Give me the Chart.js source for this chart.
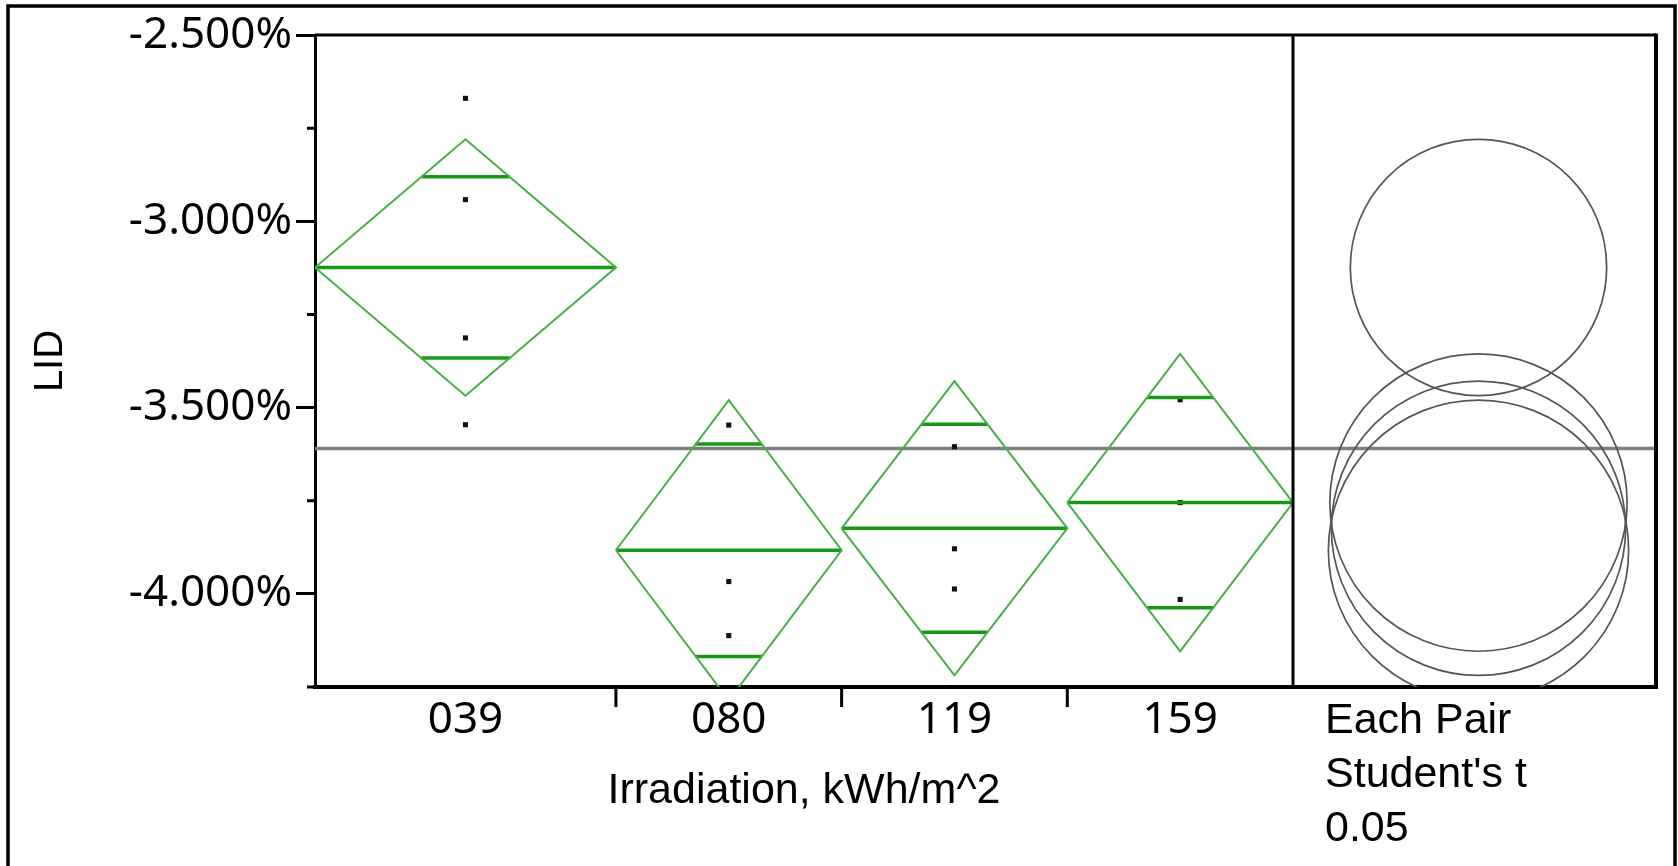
<!DOCTYPE html>
<html>
<head>
<meta charset="utf-8">
<script src="https://cdn.jsdelivr.net/npm/chart.js@4.4.1/dist/chart.umd.min.js"></script>
<style>
  html, body { margin: 0; padding: 0; background: #fff; }
  #wrap { width: 1678px; height: 866px; position: relative; }
</style>
</head>
<body>
<div id="wrap"><canvas id="lid"></canvas></div>
<script>
// values (LID in %)
const groups = ['039', '080', '119', '159'];
const groupN = [4, 3, 3, 3];
const obs = [
  [-2.670, -2.942, -3.313, -3.546],
  [-3.547, -3.967, -4.112],
  [-3.605, -3.879, -3.987],
  [-3.479, -3.755, -4.015]
];
const groupMeans = [-3.124, -3.883, -3.824, -3.755];
const ciHalf = [0.344, 0.403, 0.395, 0.399];
const grandMean = -3.610;
const yMajorTicks = [-2.5, -3.0, -3.5, -4.0];
const yMinorTicks = [-2.75, -3.25, -3.75, -4.25];
const compareText = ['Each Pair', "Student's t", '0.05'];

// x runs in observation counts, so each group is as wide as its n
const edges = [0];
groupN.forEach(n => edges.push(edges[edges.length - 1] + n));
const centers = groupN.map((n, i) => edges[i] + n / 2);

const green = 'rgb(70,175,70)';
const darkGreen = 'rgb(24,152,24)';
const TICK_FONT = 'Noto Sans';
const TEXT_FONT = 'Liberation Sans';
const PANEL_W = 363;

const line = (data, color, width) => ({
  data, borderColor: color, borderWidth: width, pointRadius: 0,
  showLine: true, fill: false, tension: 0
});

const datasets = [];
groups.forEach((g, i) => {
  const m = groupMeans[i], h = ciHalf[i];
  const x0 = edges[i], x1 = edges[i + 1], xc = centers[i];
  datasets.push(line([{x: x0, y: m}, {x: xc, y: m + h}, {x: x1, y: m}, {x: xc, y: m - h}, {x: x0, y: m}], green, 2));
  datasets.push(line([{x: x0, y: m}, {x: x1, y: m}], darkGreen, 3.5));
  // overlap marks at mean +- h/sqrt(2)
  const k = (1 - Math.SQRT1_2) * (x1 - x0) / 2;
  [m + h * Math.SQRT1_2, m - h * Math.SQRT1_2].forEach(v => {
    datasets.push(line([{x: xc - k, y: v}, {x: xc + k, y: v}], darkGreen, 3.5));
  });
  datasets.push({
    data: obs[i].map(v => ({x: xc, y: v})),
    showLine: false, pointStyle: 'rect', pointRadius: 3.6,
    backgroundColor: '#111', borderColor: '#111', borderWidth: 0
  });
});

const framePlugin = {
  id: 'frame',
  beforeDraw(chart) {
    const ctx = chart.ctx;
    ctx.save();
    ctx.fillStyle = '#fff';
    ctx.fillRect(0, 0, chart.width, chart.height);
    ctx.restore();
  },
  beforeDatasetsDraw(chart) {
    const {ctx, chartArea: a, scales: {y}} = chart;
    const gy = y.getPixelForValue(grandMean);
    ctx.save();
    ctx.strokeStyle = '#7f7f7f';
    ctx.lineWidth = 3.5;
    ctx.beginPath();
    ctx.moveTo(a.left, gy);
    ctx.lineTo(a.right + PANEL_W, gy);
    ctx.stroke();
    ctx.restore();
  },
  afterDraw(chart) {
    const {ctx, chartArea: a, scales: {x, y}} = chart;
    const right = a.right + PANEL_W;
    ctx.save();
    ctx.strokeStyle = '#000';
    ctx.lineCap = 'butt';

    // plot frame
    ctx.lineWidth = 3;
    ctx.beginPath();
    ctx.moveTo(a.left, a.top); ctx.lineTo(right, a.top);
    ctx.stroke();
    ctx.lineWidth = 4;
    ctx.beginPath();
    ctx.moveTo(right, a.top - 1.5); ctx.lineTo(right, a.bottom + 2);
    ctx.moveTo(a.right, a.bottom); ctx.lineTo(right + 2, a.bottom);
    ctx.stroke();
    ctx.lineWidth = 3;
    ctx.beginPath();
    ctx.moveTo(a.right, a.top); ctx.lineTo(a.right, a.bottom);
    ctx.stroke();

    // minor y ticks
    ctx.lineWidth = 3;
    ctx.beginPath();
    yMinorTicks.forEach(v => {
      const py = y.getPixelForValue(v);
      ctx.moveTo(a.left - 8, py); ctx.lineTo(a.left, py);
    });
    ctx.stroke();

    // group boundary ticks on x
    ctx.lineWidth = 3;
    ctx.beginPath();
    edges.slice(1, -1).forEach(v => {
      const px = x.getPixelForValue(v);
      ctx.moveTo(px, a.bottom); ctx.lineTo(px, a.bottom + 20);
    });
    ctx.stroke();

    // comparison circles, clipped to the side panel
    const cx = (a.right + right) / 2 + 4;
    ctx.save();
    ctx.beginPath();
    ctx.rect(a.right, a.top, PANEL_W, a.bottom - a.top);
    ctx.clip();
    ctx.strokeStyle = '#555';
    ctx.lineWidth = 1.7;
    groupMeans.forEach((m, i) => {
      const cy = y.getPixelForValue(m);
      const r = Math.abs(y.getPixelForValue(m + ciHalf[i]) - cy);
      ctx.beginPath();
      ctx.arc(cx, cy, r, 0, Math.PI * 2);
      ctx.stroke();
    });
    ctx.restore();

    // panel caption
    ctx.fillStyle = '#000';
    ctx.font = '43px "' + TEXT_FONT + '"';
    ctx.textAlign = 'left';
    ctx.textBaseline = 'middle';
    compareText.forEach((t, i) => ctx.fillText(t, a.right + 32, a.bottom + 34 + i * 54));

    // outer border
    ctx.lineWidth = 3.5;
    ctx.beginPath();
    ctx.moveTo(8, chart.height); ctx.lineTo(8, 6); ctx.lineTo(1675, 6); ctx.lineTo(1675, chart.height);
    ctx.stroke();
    ctx.restore();
  }
};

Chart.defaults.font.family = TICK_FONT;
Chart.defaults.font.size = 44;
Chart.defaults.color = '#000';

new Chart(document.getElementById('lid'), {
  type: 'scatter',
  data: { datasets },
  plugins: [framePlugin],
  options: {
    responsive: true,
    maintainAspectRatio: false,
    animation: false,
    layout: { padding: { top: 35, right: 1678 - 1293, left: 0, bottom: 0 } },
    plugins: { legend: { display: false }, tooltip: { enabled: false } },
    scales: {
      x: {
        type: 'linear',
        min: 0,
        max: edges[edges.length - 1],
        afterBuildTicks: s => { s.ticks = centers.map(v => ({value: v})); },
        afterFit: s => { s.height = 866 - 687; },
        ticks: { padding: 7, callback: (v, i) => groups[i], maxRotation: 0, autoSkip: false },
        grid: { display: false, drawTicks: false },
        border: { display: true, color: '#000', width: 4 },
        title: { display: true, text: 'Irradiation, kWh/m^2', font: { family: TEXT_FONT, size: 43, lineHeight: 1 }, padding: { top: 0, bottom: 53 } }
      },
      y: {
        type: 'linear',
        min: -4.25,
        max: -2.5,
        afterBuildTicks: s => { s.ticks = yMajorTicks.map(v => ({value: v})); },
        afterFit: s => { s.width = 315; },
        ticks: { padding: 4, callback: v => v.toFixed(3) + '%' },
        grid: { display: true, drawOnChartArea: false, drawTicks: true, tickLength: 19, tickWidth: 3, tickColor: '#000' },
        border: { display: true, color: '#000', width: 3 },
        title: { display: true, text: 'LID', font: { family: TEXT_FONT, size: 40, lineHeight: 1 }, padding: { top: 31, bottom: 0 } }
      }
    }
  }
});
</script>
</body>
</html>
